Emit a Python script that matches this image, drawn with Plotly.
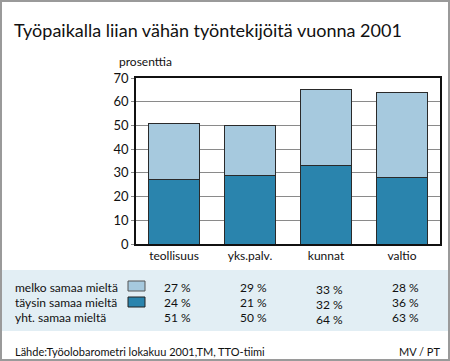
import plotly.graph_objects as go

categories = ["teollisuus", "yks.palv.", "kunnat", "valtio"]
lower_values = [27, 29, 33, 28]
upper_values = [24, 21, 32, 36]
row_labels = ["melko samaa mieltä", "täysin samaa mieltä", "yht. samaa mieltä"]
melko_text = ["27 %", "29 %", "33 %", "28 %"]
taysin_text = ["24 %", "21 %", "32 %", "36 %"]
yht_text = ["51 %", "50 %", "64 %", "63 %"]
y_ticks = [0, 10, 20, 30, 40, 50, 60, 70]

W, H = 450, 361
ML, MR, MT, MB = 136, 10, 78, 117
PW, PH = W - ML - MR, H - MT - MB

def px(x):
    return (x - ML) / PW

def py(y):
    return (H - MB - y) / PH

DARK = "#2a84ad"
LIGHT = "#a6c9de"
FONT = "Lato"

fig = go.Figure()
fig.add_trace(go.Bar(x=categories, y=lower_values, name="täysin samaa mieltä",
                     marker=dict(color=DARK, line=dict(color="#2a2a2a", width=1))))
fig.add_trace(go.Bar(x=categories, y=upper_values, name="melko samaa mieltä",
                     marker=dict(color=LIGHT, line=dict(color="#2a2a2a", width=1))))

shapes = [
    dict(type="rect", xref="paper", yref="paper", x0=px(1), x1=px(449), y0=py(1), y1=py(360),
         line=dict(color="#9a9a9a", width=2), fillcolor="rgba(0,0,0,0)", layer="below"),
    dict(type="rect", xref="paper", yref="paper", x0=px(2), x1=px(448), y0=py(270), y1=py(331),
         line=dict(width=0), fillcolor="#e2eef4", layer="below"),
    dict(type="rect", xref="paper", yref="paper", x0=px(128), x1=px(145), y0=py(281), y1=py(291),
         line=dict(color="#555", width=1), fillcolor=LIGHT),
    dict(type="rect", xref="paper", yref="paper", x0=px(128), x1=px(145), y0=py(297), y1=py(307),
         line=dict(color="#222", width=1), fillcolor=DARK),
]

annotations = [
    dict(text="Työpaikalla liian vähän työntekijöitä vuonna 2001", xref="paper", yref="paper",
         x=px(12), y=py(30), xanchor="left", yanchor="middle", showarrow=False,
         font=dict(family=FONT, size=18, color="#111")),
    dict(text="prosenttia", xref="paper", yref="paper", x=px(117), y=py(61),
         xanchor="left", yanchor="middle", showarrow=False,
         font=dict(family=FONT, size=12, color="#111")),
    dict(text="Lähde:Työolobarometri lokakuu 2001,TM, TTO-tiimi", xref="paper", yref="paper",
         x=px(13), y=py(351), xanchor="left", yanchor="middle", showarrow=False,
         font=dict(family=FONT, size=11, color="#111")),
    dict(text="MV / PT", xref="paper", yref="paper", x=px(442), y=py(351),
         xanchor="right", yanchor="middle", showarrow=False,
         font=dict(family=FONT, size=11, color="#111")),
]
row_y = [287, 302, 317]
for lbl, yy in zip(row_labels, row_y):
    annotations.append(dict(text=lbl, xref="paper", yref="paper", x=px(13), y=py(yy),
                            xanchor="left", yanchor="middle", showarrow=False,
                            font=dict(family=FONT, size=12, color="#111")))
for texts, yy in zip([melko_text, taysin_text, yht_text], row_y):
    for i, (c, t) in enumerate(zip(categories, texts)):
        off = 2 if c == "kunnat" else 0
        annotations.append(dict(text=t, xref="x", yref="paper", x=c, y=py(yy + off),
                                xanchor="center", yanchor="middle", xshift=3, showarrow=False,
                                font=dict(family=FONT, size=12, color="#111")))

fig.update_layout(
    width=W, height=H, barmode="stack", bargap=0.33, showlegend=False,
    margin=dict(l=ML, r=MR, t=MT, b=MB, autoexpand=False),
    paper_bgcolor="white", plot_bgcolor="white",
    font=dict(family=FONT, size=12, color="#111"),
    shapes=shapes, annotations=annotations,
    xaxis=dict(showline=True, linecolor="#111", linewidth=1.5, mirror=True,
               showgrid=False, ticks="", tickfont=dict(family=FONT, size=12, color="#111")),
    yaxis=dict(range=[0, 70], tickvals=y_ticks, showline=True, linecolor="#111", linewidth=1.5,
               mirror=True, showgrid=True, gridcolor="#8a8a8a", gridwidth=1,
               ticks="outside", ticklen=3, tickcolor="#8a8a8a", zeroline=False,
               tickfont=dict(family=FONT, size=13, color="#111")),
)

fig.write_html("out.html", config={"displayModeBar": False},
               post_script="document.body.style.margin='0';document.body.style.overflow='hidden';")
